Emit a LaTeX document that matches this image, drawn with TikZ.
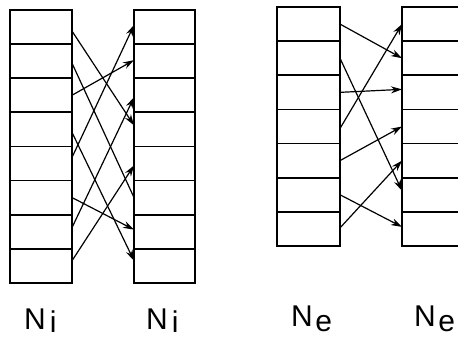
\documentclass[tikz,border=0pt]{standalone}
\usepackage{fontspec}
\setmainfont{Liberation Sans}
\usetikzlibrary{arrows.meta,calc}
\tikzset{
  cellbox/.style={draw, line width=1.8pt, inner sep=0pt, outer sep=0pt, minimum height=34.1pt},
  arr/.style={line width=1.2pt, -{Stealth[length=11pt,width=7pt]}},
  plain/.style={line width=1.2pt},
  lbl/.style={anchor=base west, inner sep=0pt, font=\fontsize{30}{30}\selectfont}
}
\begin{document}
\begin{tikzpicture}[x=1pt,y=-1pt]
\useasboundingbox (0,0) rectangle (458,337);
% Ni columns
\foreach \k in {1,...,8}{
  \node[cellbox, minimum width=62pt] (L\k) at (41,{10+34.1*(\k-0.5)}) {};
  \node[cellbox, minimum width=61pt] (R\k) at (164.5,{10+34.1*(\k-0.5)}) {};
}
% Ne columns
\foreach \k in {1,...,7}{
  \node[cellbox, minimum width=63pt, minimum height=34.14pt] (P\k) at (308.5,{7+34.14*(\k-0.5)}) {};
  \node[cellbox, minimum width=60pt, minimum height=34.14pt] (Q\k) at (432,{7+34.14*(\k-0.5)}) {};
}
% Ni connectors
\draw[arr] ($(L1.east)+(0,4)$) -- ($(R4.west)+(0,-4)$);
\draw[plain] ($(L2.east)+(0,2)$) -- ($(R6.west)+(0,0)$);
\draw[arr] ($(L3.east)+(0,0)$) -- ($(R2.west)+(0,-1)$);
\draw[arr] ($(L4.east)+(0,3)$) -- ($(R8.west)+(0,-5)$);
\draw[arr] ($(L5.east)+(0,-6)$) -- ($(R1.west)+(0,-2)$);
\draw[arr] ($(L6.east)+(0,0)$) -- ($(R7.west)+(0,-2)$);
\draw[arr] ($(L7.east)+(0,-4)$) -- ($(R3.west)+(0,2)$);
\draw[arr] ($(L8.east)+(0,-5)$) -- ($(R5.west)+(0,2)$);
% Ne connectors
\draw[arr] (P1.east) -- (Q2.west);
\draw[arr] (P2.east) -- ($(Q6.west)+(0,-4)$);
\draw[arr] (P3.east) -- ($(Q3.west)+(0,-3)$);
\draw[arr] ($(P4.east)+(0,2)$) -- (Q1.west);
\draw[arr] (P5.east) -- (Q4.west);
\draw[arr] (P6.east) -- ($(Q7.west)+(0,-2)$);
\draw[arr] ($(P7.east)+(0,-1)$) -- (Q5.west);
% labels
\node[lbl] (t1) at (24,329) {N\kern4pt\raisebox{-3pt}{i}};
\node[lbl] (t2) at (146,329) {N\kern4pt\raisebox{-3pt}{i}};
\node[lbl] (t3) at (291,326) {N\kern2.5pt\raisebox{-5pt}{e}};
\node[lbl] (t4) at (414,326) {N\kern2.5pt\raisebox{-5pt}{e}};
\end{tikzpicture}
\end{document}
